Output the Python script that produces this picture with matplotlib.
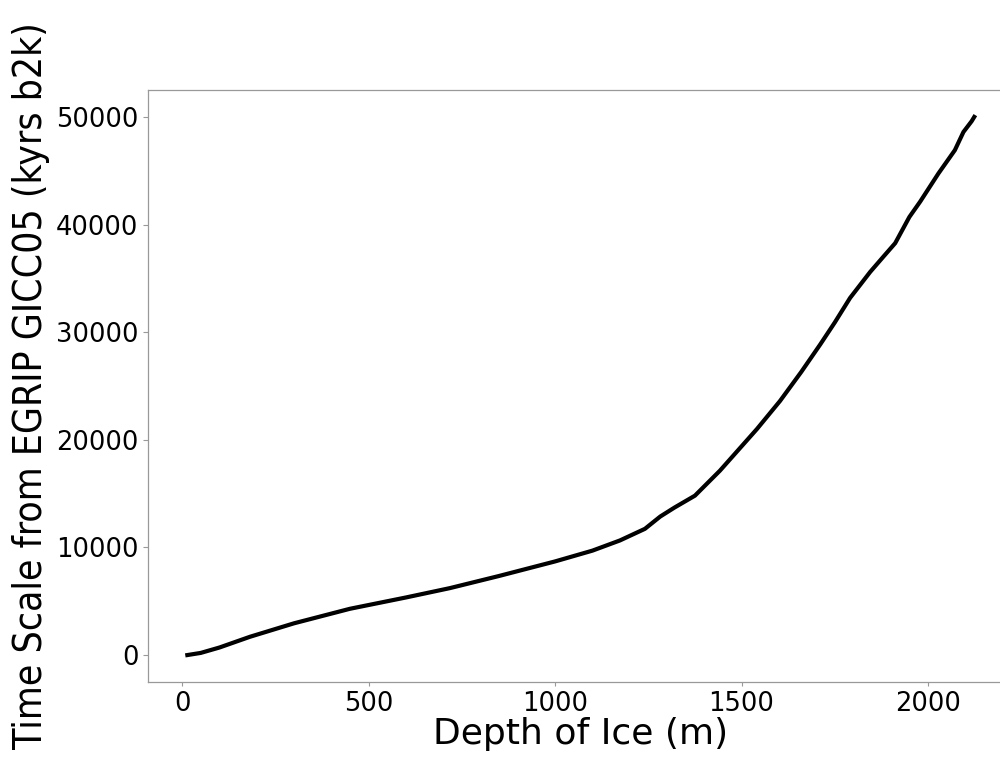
import matplotlib
matplotlib.use("Agg")
import matplotlib.pyplot as plt

depth_m = [14, 50, 100, 182, 300, 450, 600, 718, 850, 1000, 1100, 1174, 1241,
           1282, 1320, 1375, 1442, 1541, 1603, 1660, 1711, 1750, 1791, 1845,
           1880, 1912, 1950, 1979, 2028, 2072, 2095, 2117, 2124]
age_b2k = [0, 200, 700, 1700, 2950, 4300, 5350, 6220, 7350, 8700, 9700, 10650,
           11730, 12870, 13700, 14810, 17130, 20990, 23600, 26300, 28860, 30900,
           33180, 35600, 37000, 38270, 40700, 42130, 44750, 46910, 48600, 49600,
           50000]

fig = plt.figure(figsize=(10, 7.66), dpi=100)
ax = fig.add_axes([0.148, 0.1097, 0.8656, 0.7728])
ax.plot(depth_m, age_b2k, color="black", lw=3.0)

for s in ax.spines.values():
    s.set_color("#999999")
    s.set_linewidth(0.9)
ax.tick_params(axis="both", colors="#999999", labelcolor="black", labelsize=18.5)
ax.tick_params(axis="x", length=3)

ax.set_xlabel("Depth of Ice (m)", fontsize=26, labelpad=0)
ax.set_ylabel("Time Scale from EGRIP GICC05 (kyrs b2k)", fontsize=28,
              family=["DejaVu Sans"], fontstretch="condensed")
ax.yaxis.set_label_coords(-0.113, 0.5)

fig.savefig("out.png", dpi=100)
